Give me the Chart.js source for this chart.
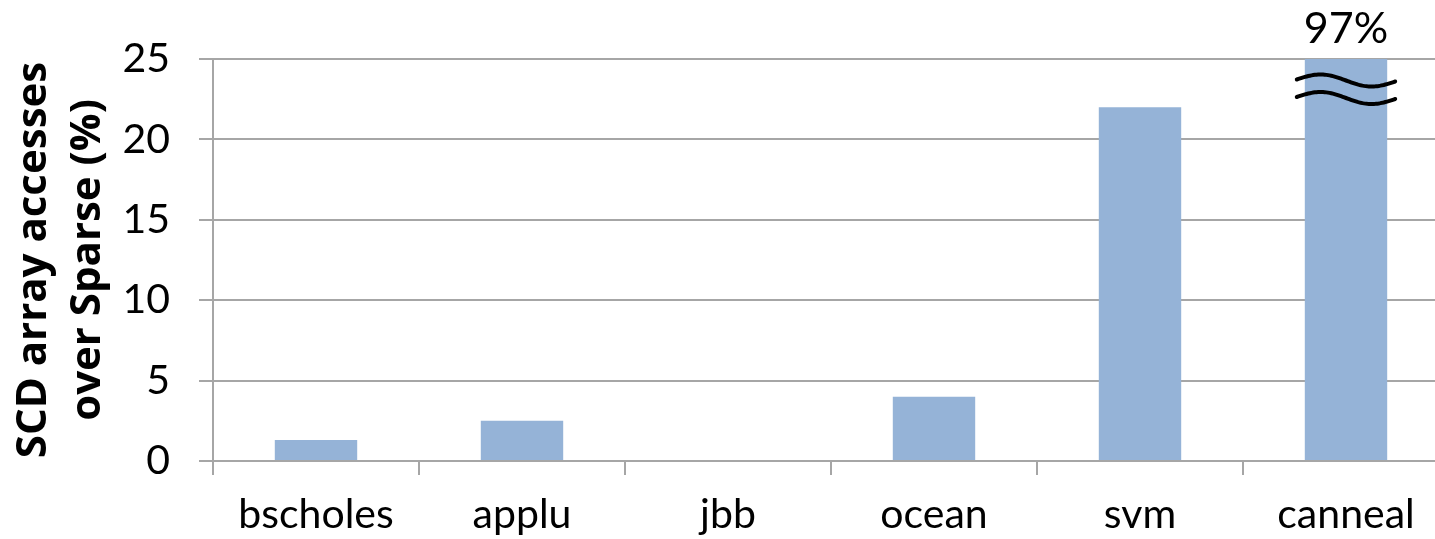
<!DOCTYPE html>
<html>
<head>
<meta charset="utf-8">
<title>SCD array accesses over Sparse</title>
<script src="https://cdn.jsdelivr.net/npm/chart.js@4/dist/chart.umd.min.js"></script>
<style>
  html, body { margin: 0; padding: 0; background: #fff; overflow: hidden; }
  #wrap { width: 1449px; height: 539px; }
</style>
</head>
<body>
<div id="wrap"><canvas id="chart" width="1449" height="539"></canvas></div>
<script>
// Benchmarks and the extra SCD array accesses relative to Sparse, in percent
const categories = ['bscholes', 'applu', 'jbb', 'ocean', 'svm', 'canneal'];
const accessIncrease = [1.3, 2.5, 0, 4.0, 22.0, 97];

// Value axis range; taller bars are cut off with a break mark
const yAxisMin = 0;
const yAxisMax = 25;
const yAxisStep = 5;

const barColor = '#95b3d7';
const gridColor = '#a6a6a6';
const labelFont = 'Lato';

// Draws a wavy break across bars that exceed the axis, plus their real value on top
const brokenBarPlugin = {
  id: 'brokenBar',
  afterDatasetsDraw(chart) {
    const { ctx, chartArea } = chart;
    const meta = chart.getDatasetMeta(0);
    const values = chart.data.datasets[0].data;
    const yMax = chart.scales.y.max;
    meta.data.forEach((bar, i) => {
      const v = values[i];
      if (v <= yMax) return;
      const half = bar.width / 2 + 8;
      const x0 = bar.x - half;
      const x1 = bar.x + half;
      const amp = 5.5;
      const tilt = 2;
      ctx.save();
      ctx.strokeStyle = '#000';
      ctx.lineWidth = 4;
      ctx.lineCap = 'round';
      [chartArea.top + 20.5, chartArea.top + 38].forEach(yc => {
        ctx.beginPath();
        const n = 60;
        for (let k = 0; k <= n; k++) {
          const t = k / n;
          const x = x0 + (x1 - x0) * t;
          const y = yc - amp * Math.sin(2 * Math.PI * t) + tilt * t;
          if (k === 0) ctx.moveTo(x, y); else ctx.lineTo(x, y);
        }
        ctx.stroke();
      });
      ctx.fillStyle = '#000';
      ctx.font = '43px ' + labelFont;
      ctx.textAlign = 'center';
      ctx.textBaseline = 'alphabetic';
      ctx.fillText(v + '%', bar.x, chartArea.top - 16);
      ctx.restore();
    });
  }
};

function build() {
  new Chart(document.getElementById('chart'), {
    type: 'bar',
    data: {
      labels: categories,
      datasets: [{
        data: accessIncrease,
        backgroundColor: barColor,
        borderWidth: 0,
        categoryPercentage: 0.4,
        barPercentage: 1.0
      }]
    },
    options: {
      responsive: false,
      animation: false,
      devicePixelRatio: 1,
      layout: { padding: { top: 59, right: 0, bottom: 0, left: 0 } },
      plugins: {
        legend: { display: false },
        tooltip: { enabled: false }
      },
      scales: {
        x: {
          grid: {
            offset: true,
            drawOnChartArea: false,
            drawTicks: true,
            tickLength: 14,
            color: gridColor,
            lineWidth: 2
          },
          border: { display: true, color: gridColor, width: 2 },
          ticks: {
            color: '#000',
            padding: 15,
            font: { family: labelFont, size: 41 },
            maxRotation: 0
          },
          afterFit(scale) { scale.height = 78; }
        },
        y: {
          min: yAxisMin,
          max: yAxisMax,
          ticks: {
            stepSize: yAxisStep,
            color: '#000',
            padding: 29,
            font: { family: labelFont, size: 41 }
          },
          grid: {
            color: gridColor,
            lineWidth: 2,
            tickLength: 14
          },
          border: { display: true, color: gridColor, width: 2 },
          title: {
            display: true,
            text: ['SCD array accesses', 'over Sparse (%)'],
            color: '#000',
            font: { family: 'Open Sans', size: 42, weight: 'bold', lineHeight: 1.29 },
            padding: { top: 7, bottom: 0 }
          },
          afterFit(scale) { scale.width = 213; }
        }
      }
    },
    plugins: [brokenBarPlugin]
  });
}

Promise.all([
  document.fonts.load('41px Lato'),
  document.fonts.load('bold 42px "Open Sans"')
]).then(build, build);
</script>
</body>
</html>
